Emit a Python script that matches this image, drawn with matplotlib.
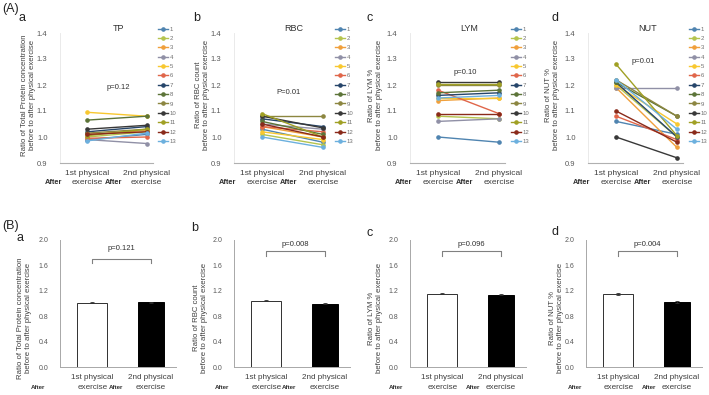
import matplotlib
matplotlib.use('Agg')
import matplotlib.pyplot as plt
import matplotlib.transforms as mtransforms

plt.rcParams['font.family'] = ['Liberation Sans', 'DejaVu Sans']

# ---------------- data ----------------
subjects = [str(i) for i in range(1, 14)]
x_labels = ['1st physical\nexercise', '2nd physical\nexercise']
titles = ['TP', 'RBC', 'LYM', 'NUT']
ylabels = ['Ratio of Total Protein concentration\nbefore to after physical exercise',
           'Ratio of RBC count\nbefore to after physical exercise',
           'Ratio of LYM %\nbefore to after physical exercise',
           'Ratio of NUT %\nbefore to after physical exercise']
p_line = ['p=0.12', 'P=0.01', 'p=0.10', 'p=0.01']
p_bar = ['p=0.121', 'p=0.008', 'p=0.096', 'p=0.004']

tp_first = [0.99, 1.00, 1.01, 0.99, 1.095, 0.995, 1.02, 1.065, 1.015, 1.03, 1.005, 1.01, 0.985]
tp_second = [1.01, 1.02, 1.025, 0.975, 1.08, 1.00, 1.04, 1.08, 1.03, 1.045, 1.03, 1.02, 1.015]
rbc_first = [1.03, 1.01, 1.04, 1.05, 1.02, 1.04, 1.07, 1.06, 1.08, 1.08, 1.09, 1.05, 1.00]
rbc_second = [0.98, 0.97, 1.00, 1.03, 0.99, 1.02, 1.04, 1.01, 1.08, 1.035, 1.00, 1.00, 0.96]
lym_first = [1.00, 1.08, 1.14, 1.06, 1.15, 1.18, 1.16, 1.17, 1.20, 1.21, 1.205, 1.09, 1.15]
lym_second = [0.98, 1.07, 1.15, 1.07, 1.15, 1.09, 1.17, 1.18, 1.20, 1.21, 1.205, 1.09, 1.16]
nut_first = [1.06, 1.20, 1.19, 1.19, 1.20, 1.08, 1.21, 1.21, 1.22, 1.00, 1.28, 1.10, 1.22]
nut_second = [1.01, 1.00, 0.96, 1.19, 1.05, 0.99, 1.00, 1.08, 1.08, 0.92, 1.005, 0.98, 1.03]

series_first = [tp_first, rbc_first, lym_first, nut_first]
series_second = [tp_second, rbc_second, lym_second, nut_second]

bar_first = [1.01, 1.04, 1.15, 1.15]
bar_second = [1.02, 1.00, 1.14, 1.02]
err_first = [0.008, 0.008, 0.008, 0.02]
err_second = [0.006, 0.01, 0.012, 0.014]

top_yticks = [0.9, 1.0, 1.1, 1.2, 1.3, 1.4]
bar_yticks = [0.0, 0.4, 0.8, 1.2, 1.6, 2.0]

colors = ['#4f84b0', '#b5c44e', '#f0a03c', '#9090a6', '#f8c830', '#e0664a', '#26456a',
          '#5c7438', '#8c8640', '#383838', '#a0a024', '#8a2a1a', '#6cb0de']

W, H = 709, 395
fig = plt.figure(figsize=(W / 100, H / 100), dpi=100)


def px_axes(l, r, top, bottom):
    return fig.add_axes([l / W, 1 - bottom / H, (r - l) / W, (bottom - top) / H])


txt_col = '#404040'
tick_col = '#595959'


def xlabels_split(ax, y1, y2, size):
    trans = mtransforms.blended_transform_factory(ax.transData, ax.transAxes)
    ax.set_xticks([0, 1])
    ax.set_xticklabels([])
    for k, lab in enumerate(x_labels):
        lines = lab.split('\n')
        for line, yy in zip(lines, (y1, y2)):
            ax.text(k, yy, line, transform=trans, fontsize=size, color=txt_col,
                    ha='center', va='center')
    return trans


# ---------------- (A) line panels ----------------
top_lefts = [60, 234, 410, 588]
top_rights = [152.5, 329, 505, 683]
ylab_x = [29, 202, 376, 552]
letter_x = [22, 197, 370, 555]
p_pos = [(0.53, 1.19), (0.43, 1.17), (0.44, 1.25), (0.44, 1.29)]

fig.text(2 / W, 1 - 9 / H, '(A)', fontsize=9, color='#222222', va='center', ha='left')
fig.text(2 / W, 1 - 226 / H, '(B)', fontsize=9, color='#222222', va='center', ha='left')

for i in range(4):
    ax = px_axes(top_lefts[i], top_rights[i], 33, 163)
    handles = []
    for j in range(13):
        h, = ax.plot([0, 1], [series_first[i][j], series_second[i][j]], '-o',
                     color=colors[j], lw=1.0, ms=2.3, label=subjects[j])
        handles.append(h)
    ax.set_xlim(-0.46, 1.1)
    ax.set_ylim(0.9, 1.4)
    ax.set_yticks(top_yticks)
    ax.set_yticklabels(['%.1f' % v for v in top_yticks])
    ax.tick_params(axis='y', length=0, labelsize=5.5, labelcolor=tick_col, pad=9)
    ax.tick_params(axis='x', length=0)
    for s in ['top', 'right']:
        ax.spines[s].set_visible(False)
    ax.spines['left'].set_color('#e6e6e6')
    ax.spines['left'].set_linewidth(0.6)
    ax.spines['bottom'].set_color('#b0b0b0')
    ax.spines['bottom'].set_linewidth(0.8)
    trans = xlabels_split(ax, -0.08, -0.148, 6)
    for xa in (-0.57, 0.44):
        ax.text(xa, -0.152, 'After', transform=trans, fontsize=5.3, fontweight='bold',
                color='#303030', ha='center', va='center')
    ax.text(0.52, 1.035, titles[i], transform=trans, fontsize=6.5, color='#303030',
            ha='center', va='center')
    ax.text(p_pos[i][0], p_pos[i][1], p_line[i], fontsize=5.5, color='#303030',
            ha='center', va='center')
    fig.text(ylab_x[i] / W, 1 - 95 / H, ylabels[i], rotation=90, fontsize=5.6,
             color=txt_col, ha='center', va='center', linespacing=1.2)
    fig.text(letter_x[i] / W, 1 - 18 / H, 'abcd'[i], fontsize=9, color='#222222',
             ha='center', va='center')
    leg = ax.legend(handles=handles, loc='upper left', bbox_to_anchor=(1.06, 1.05),
                    frameon=False, fontsize=4.3, handlelength=1.7, labelspacing=0.70,
                    borderpad=0, handletextpad=0.3, borderaxespad=0)
    for t in leg.get_texts():
        t.set_color('#707070')

# ---------------- (B) bar panels ----------------
bar_lefts = [60, 234, 410, 586]
bar_rights = [176, 350, 526, 702]
bar_ylab_x = [25, 201, 376, 556]
bar_letter = [(20, 238), (195, 228), (370, 233), (555, 232)]
bracket_y = [1.70, 1.82, 1.82, 1.82]
ptext_y = [1.86, 1.93, 1.93, 1.93]
after_x = [(-0.92, 0.41), (-0.76, 0.39), (-0.78, 0.52), (-0.74, 0.52)]

for i in range(4):
    ax = px_axes(bar_lefts[i], bar_rights[i], 240, 367)
    ax.bar([0], [bar_first[i]], width=0.52, color='white', edgecolor='#303030', lw=0.7,
           yerr=[err_first[i]], error_kw=dict(ecolor='#303030', elinewidth=0.6, capsize=1.5, capthick=0.6))
    ax.bar([1], [bar_second[i]], width=0.44, color='black', edgecolor='black', lw=0.7,
           yerr=[err_second[i]], error_kw=dict(ecolor='#303030', elinewidth=0.6, capsize=1.5, capthick=0.6))
    ax.set_xlim(-0.55, 1.43)
    ax.set_ylim(0, 2.0)
    ax.set_yticks(bar_yticks)
    ax.set_yticklabels(['%.1f' % v for v in bar_yticks])
    ax.tick_params(axis='y', length=0, labelsize=5, labelcolor=tick_col, pad=8.5)
    ax.tick_params(axis='x', length=0)
    for s in ['top', 'right']:
        ax.spines[s].set_visible(False)
    for s in ['left', 'bottom']:
        ax.spines[s].set_color('#a8a8a8')
        ax.spines[s].set_linewidth(0.7)
    ax.plot([0, 0, 1, 1], [bracket_y[i] - 0.07, bracket_y[i], bracket_y[i], bracket_y[i] - 0.07],
            color='#808080', lw=0.8)
    ax.text(0.5, ptext_y[i], p_bar[i], fontsize=5.5, color='#303030', ha='center', va='center')
    trans = xlabels_split(ax, -0.08, -0.158, 5.9)
    for xa in after_x[i]:
        ax.text(xa, -0.162, 'After', transform=trans, fontsize=4.4, fontweight='bold',
                color='#303030', ha='center', va='center')
    fig.text(bar_ylab_x[i] / W, 1 - 318 / H, ylabels[i], rotation=90, fontsize=5.6,
             color=txt_col, ha='center', va='center', linespacing=1.2)
    fig.text(bar_letter[i][0] / W, 1 - bar_letter[i][1] / H, 'abcd'[i], fontsize=9,
             color='#222222', ha='center', va='center')

fig.savefig('out.png', dpi=100, facecolor='white')
